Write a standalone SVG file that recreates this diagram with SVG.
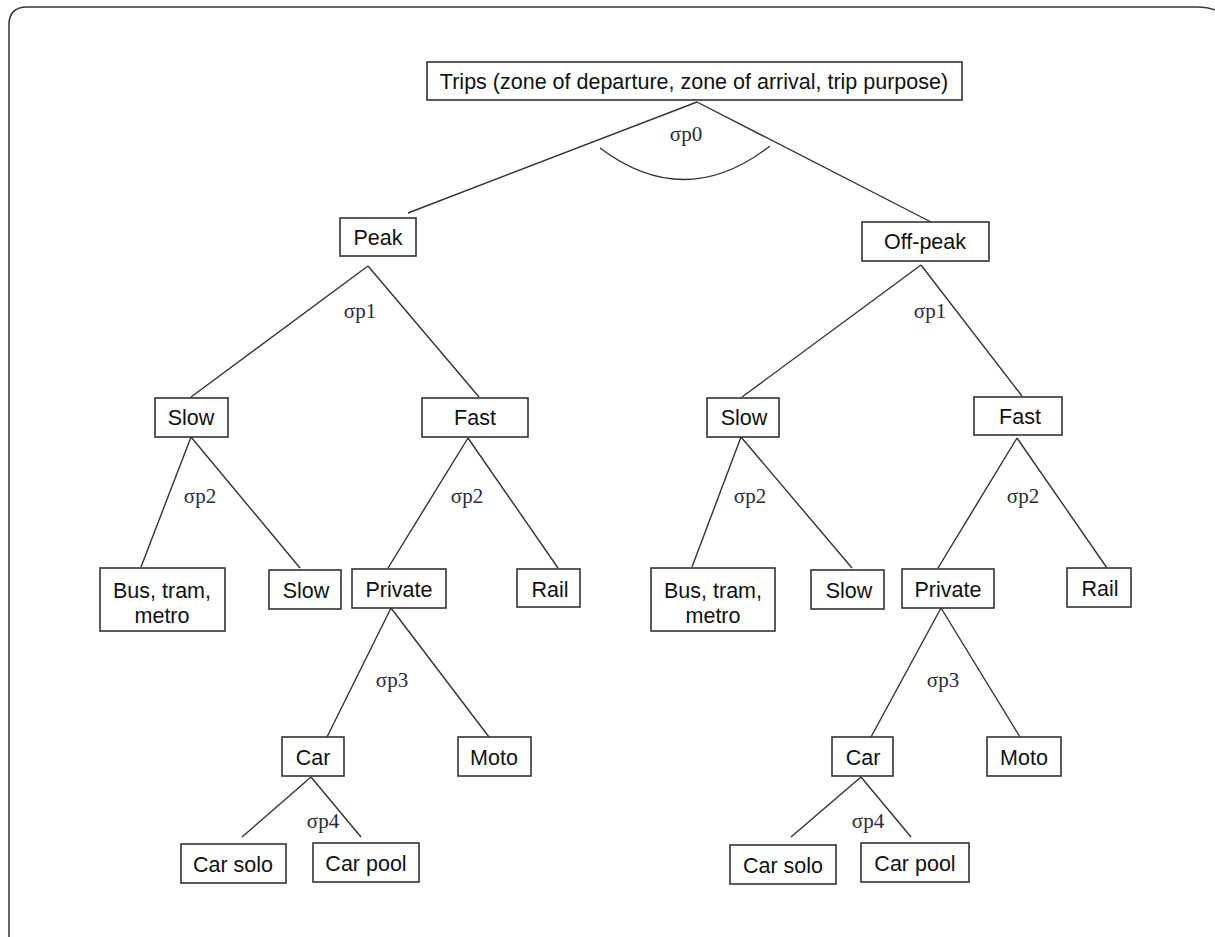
<svg xmlns="http://www.w3.org/2000/svg" width="1215" height="937" viewBox="0 0 1215 937">
<style>
.box{fill:#fff;stroke:#333;stroke-width:1.6}
.t{font-family:"Liberation Sans",Arial,sans-serif;font-size:21.5px;fill:#111;text-anchor:middle}
.s{font-family:"Liberation Serif","Times New Roman",serif;font-size:21px;fill:#2b2b3b;text-anchor:middle}
.c{stroke:#333;stroke-width:1.4;fill:none}
</style>
<rect x="0" y="0" width="1215" height="937" fill="#fff"/>
<path d="M9,937 V25 Q9,7 27,7 H1197 Q1213,7 1222,14" fill="none" stroke="#333" stroke-width="1.5"/>
<g id="connectors" class="c">
<line x1="697" y1="102" x2="408" y2="213"/>
<line x1="697" y1="102" x2="931" y2="222"/>
<path d="M600,148 Q685,212 770,146"/>
<line x1="368" y1="266" x2="191" y2="397"/>
<line x1="368" y1="266" x2="479" y2="397"/>
<line x1="921" y1="265" x2="742" y2="397"/>
<line x1="921" y1="265" x2="1022" y2="396"/>
<line x1="191" y1="437" x2="141" y2="567"/>
<line x1="191" y1="437" x2="300" y2="568"/>
<line x1="468" y1="438" x2="388" y2="568"/>
<line x1="468" y1="438" x2="558" y2="568"/>
<line x1="741" y1="437" x2="692" y2="567"/>
<line x1="741" y1="437" x2="852" y2="568"/>
<line x1="1017" y1="438" x2="938" y2="568"/>
<line x1="1017" y1="438" x2="1107" y2="568"/>
<line x1="391" y1="608" x2="327" y2="737"/>
<line x1="391" y1="608" x2="489" y2="737"/>
<line x1="941" y1="608" x2="871" y2="737"/>
<line x1="941" y1="608" x2="1020" y2="737"/>
<line x1="311" y1="777" x2="242" y2="837"/>
<line x1="311" y1="777" x2="361" y2="837"/>
<line x1="861" y1="777" x2="791" y2="837"/>
<line x1="861" y1="777" x2="911" y2="837"/>
</g>
<g id="labels">
<text class="s" x="686" y="141">σp0</text>
<text class="s" x="360" y="318">σp1</text>
<text class="s" x="930" y="318">σp1</text>
<text class="s" x="200" y="503">σp2</text>
<text class="s" x="467" y="503">σp2</text>
<text class="s" x="750" y="503">σp2</text>
<text class="s" x="1023" y="503">σp2</text>
<text class="s" x="392" y="687">σp3</text>
<text class="s" x="943" y="687">σp3</text>
<text class="s" x="323" y="828">σp4</text>
<text class="s" x="868" y="828">σp4</text>
</g>
<g id="trips"><rect class="box" x="427" y="62" width="535" height="38"/><text class="t" x="694" y="89">Trips (zone of departure, zone of arrival, trip purpose)</text></g>
<g id="peak"><rect class="box" x="340" y="218" width="76" height="38"/><text class="t" x="378" y="245">Peak</text></g>
<g id="offpeak"><rect class="box" x="862" y="222" width="127" height="39"/><text class="t" x="925" y="249">Off-peak</text></g>
<g id="slow-l"><rect class="box" x="155" y="398" width="73" height="39"/><text class="t" x="191" y="425">Slow</text></g>
<g id="fast-l"><rect class="box" x="422" y="398" width="106" height="39"/><text class="t" x="475" y="425">Fast</text></g>
<g id="slow-r"><rect class="box" x="707" y="398" width="72" height="39"/><text class="t" x="744" y="425">Slow</text></g>
<g id="fast-r"><rect class="box" x="974" y="397" width="88" height="38"/><text class="t" x="1020" y="424">Fast</text></g>
<g id="bus-l"><rect class="box" x="100" y="568" width="125" height="63"/><text class="t" x="162" y="598">Bus, tram,</text><text class="t" x="162" y="623">metro</text></g>
<g id="slowleaf-l"><rect class="box" x="269" y="570" width="72" height="39"/><text class="t" x="306" y="598">Slow</text></g>
<g id="private-l"><rect class="box" x="352" y="569" width="94" height="39"/><text class="t" x="399" y="597">Private</text></g>
<g id="rail-l"><rect class="box" x="517" y="569" width="63" height="38"/><text class="t" x="550" y="597">Rail</text></g>
<g id="bus-r"><rect class="box" x="651" y="568" width="124" height="63"/><text class="t" x="713" y="598">Bus, tram,</text><text class="t" x="713" y="623">metro</text></g>
<g id="slowleaf-r"><rect class="box" x="811" y="570" width="73" height="39"/><text class="t" x="849" y="598">Slow</text></g>
<g id="private-r"><rect class="box" x="902" y="569" width="92" height="39"/><text class="t" x="948" y="597">Private</text></g>
<g id="rail-r"><rect class="box" x="1067" y="568" width="64" height="39"/><text class="t" x="1100" y="596">Rail</text></g>
<g id="car-l"><rect class="box" x="282" y="737" width="62" height="39"/><text class="t" x="313" y="765">Car</text></g>
<g id="moto-l"><rect class="box" x="458" y="737" width="73" height="39"/><text class="t" x="494" y="765">Moto</text></g>
<g id="car-r"><rect class="box" x="832" y="737" width="61" height="39"/><text class="t" x="863" y="765">Car</text></g>
<g id="moto-r"><rect class="box" x="987" y="737" width="74" height="39"/><text class="t" x="1024" y="765">Moto</text></g>
<g id="carsolo-l"><rect class="box" x="181" y="844" width="105" height="39"/><text class="t" x="233" y="872">Car solo</text></g>
<g id="carpool-l"><rect class="box" x="313" y="843" width="106" height="39"/><text class="t" x="366" y="871">Car pool</text></g>
<g id="carsolo-r"><rect class="box" x="730" y="845" width="106" height="39"/><text class="t" x="783" y="873">Car solo</text></g>
<g id="carpool-r"><rect class="box" x="861" y="843" width="108" height="39"/><text class="t" x="915" y="871">Car pool</text></g>
</svg>
